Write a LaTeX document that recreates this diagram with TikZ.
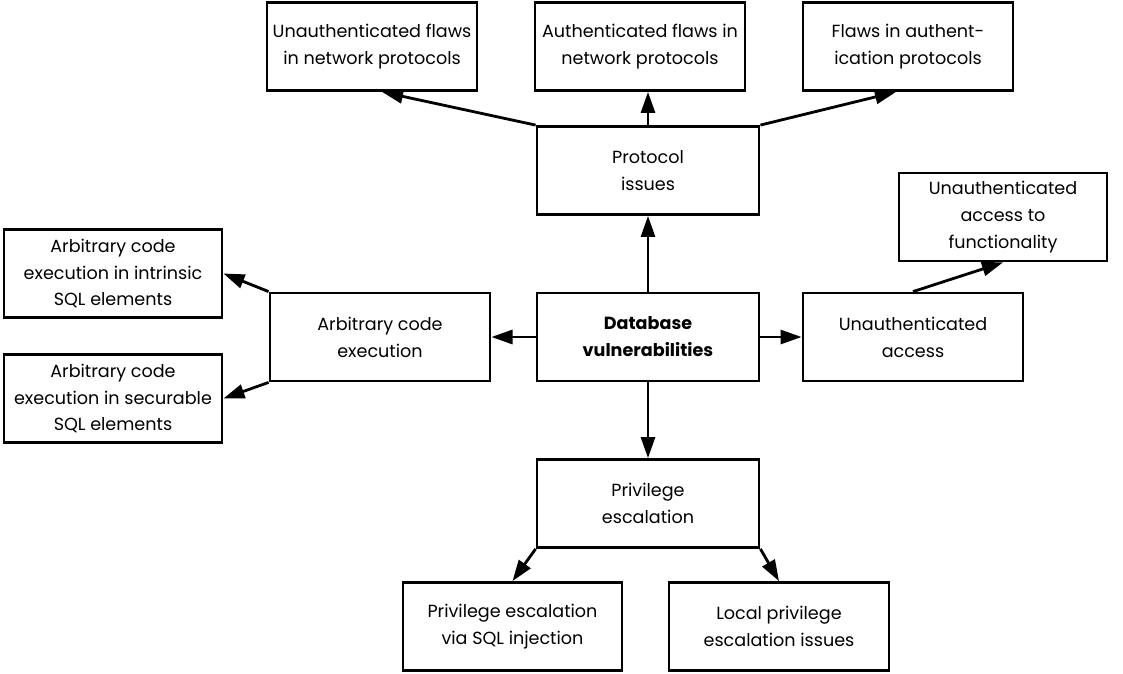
\documentclass[tikz,border=0pt]{standalone}
\usepackage{fontspec}
\setmainfont{Poppins}
\usetikzlibrary{arrows.meta}
\newdimen\unitsize
\setlength{\unitsize}{0.03cm}

\begin{document}
\begin{tikzpicture}[x=\unitsize,y=-\unitsize]
\tikzset{box/.style={draw, line width=2.4pt, align=center, inner sep=0pt,
  font=\fontsize{15}{23}\selectfont, minimum height=88\unitsize}}%
\tikzset{edge/.style={line width=2.4pt, -{Triangle[length=18pt,width=12pt]}}}%
\useasboundingbox (0,0) rectangle (1123,674);
% top row
\node[box, minimum width=210\unitsize] (unflaws) at (372,46.5) {Unauthenticated flaws\\in network protocols};
\node[box, minimum width=210\unitsize] (authflaws) at (640,46.5) {Authenticated flaws in\\network protocols};
\node[box, minimum width=210\unitsize] (authproto) at (908,46.5) {Flaws in authent-\\ication protocols};
\node[box, minimum width=222\unitsize] (protocol) at (648,170.5) {Protocol\\issues};
\node[box, minimum width=208\unitsize] (unfunc) at (1003,217) {Unauthenticated\\access to\\functionality};
% middle row
\node[box, minimum width=218\unitsize] (intrinsic) at (113,273.5) {Arbitrary code\\execution in intrinsic\\SQL elements};
\node[box, minimum width=220\unitsize] (arbitrary) at (380,337) {Arbitrary code\\execution};
\node[box, minimum width=222\unitsize] (dbvuln) at (648,337) {\bfseries Database\\\bfseries vulnerabilities};
\node[box, minimum width=220\unitsize] (unaccess) at (913,337) {Unauthenticated\\access};
\node[box, minimum width=218\unitsize] (securable) at (113,398.5) {Arbitrary code\\execution in securable\\SQL elements};
% bottom
\node[box, minimum width=222\unitsize] (privesc) at (648,503.5) {Privilege\\escalation};
\node[box, minimum width=219\unitsize] (viasql) at (512.5,626.5) {Privilege escalation\\via SQL injection};
\node[box, minimum width=220\unitsize] (localpriv) at (779,626.5) {Local privilege\\escalation issues};
% arrows
\draw[edge] (dbvuln.north) -- (protocol.south);
\draw[edge] (dbvuln.south) -- (privesc.north);
\draw[edge] (dbvuln.west) -- (arbitrary.east);
\draw[edge] (dbvuln.east) -- (unaccess.west);
\draw[edge] (protocol.north west) -- ([xshift=10\unitsize]unflaws.south);
\draw[edge] (protocol.north) -- (protocol.north |- authflaws.south);
\draw[edge] (protocol.north east) -- ([xshift=-12\unitsize]authproto.south);
\draw[edge] (unaccess.north) -- (unfunc.south);
\draw[edge] (arbitrary.north west) -- (intrinsic.east);
\draw[edge] (arbitrary.south west) -- (securable.east);
\draw[edge] (privesc.south west) -- (viasql.north);
\draw[edge] (privesc.south east) -- (localpriv.north);
\end{tikzpicture}
\end{document}
